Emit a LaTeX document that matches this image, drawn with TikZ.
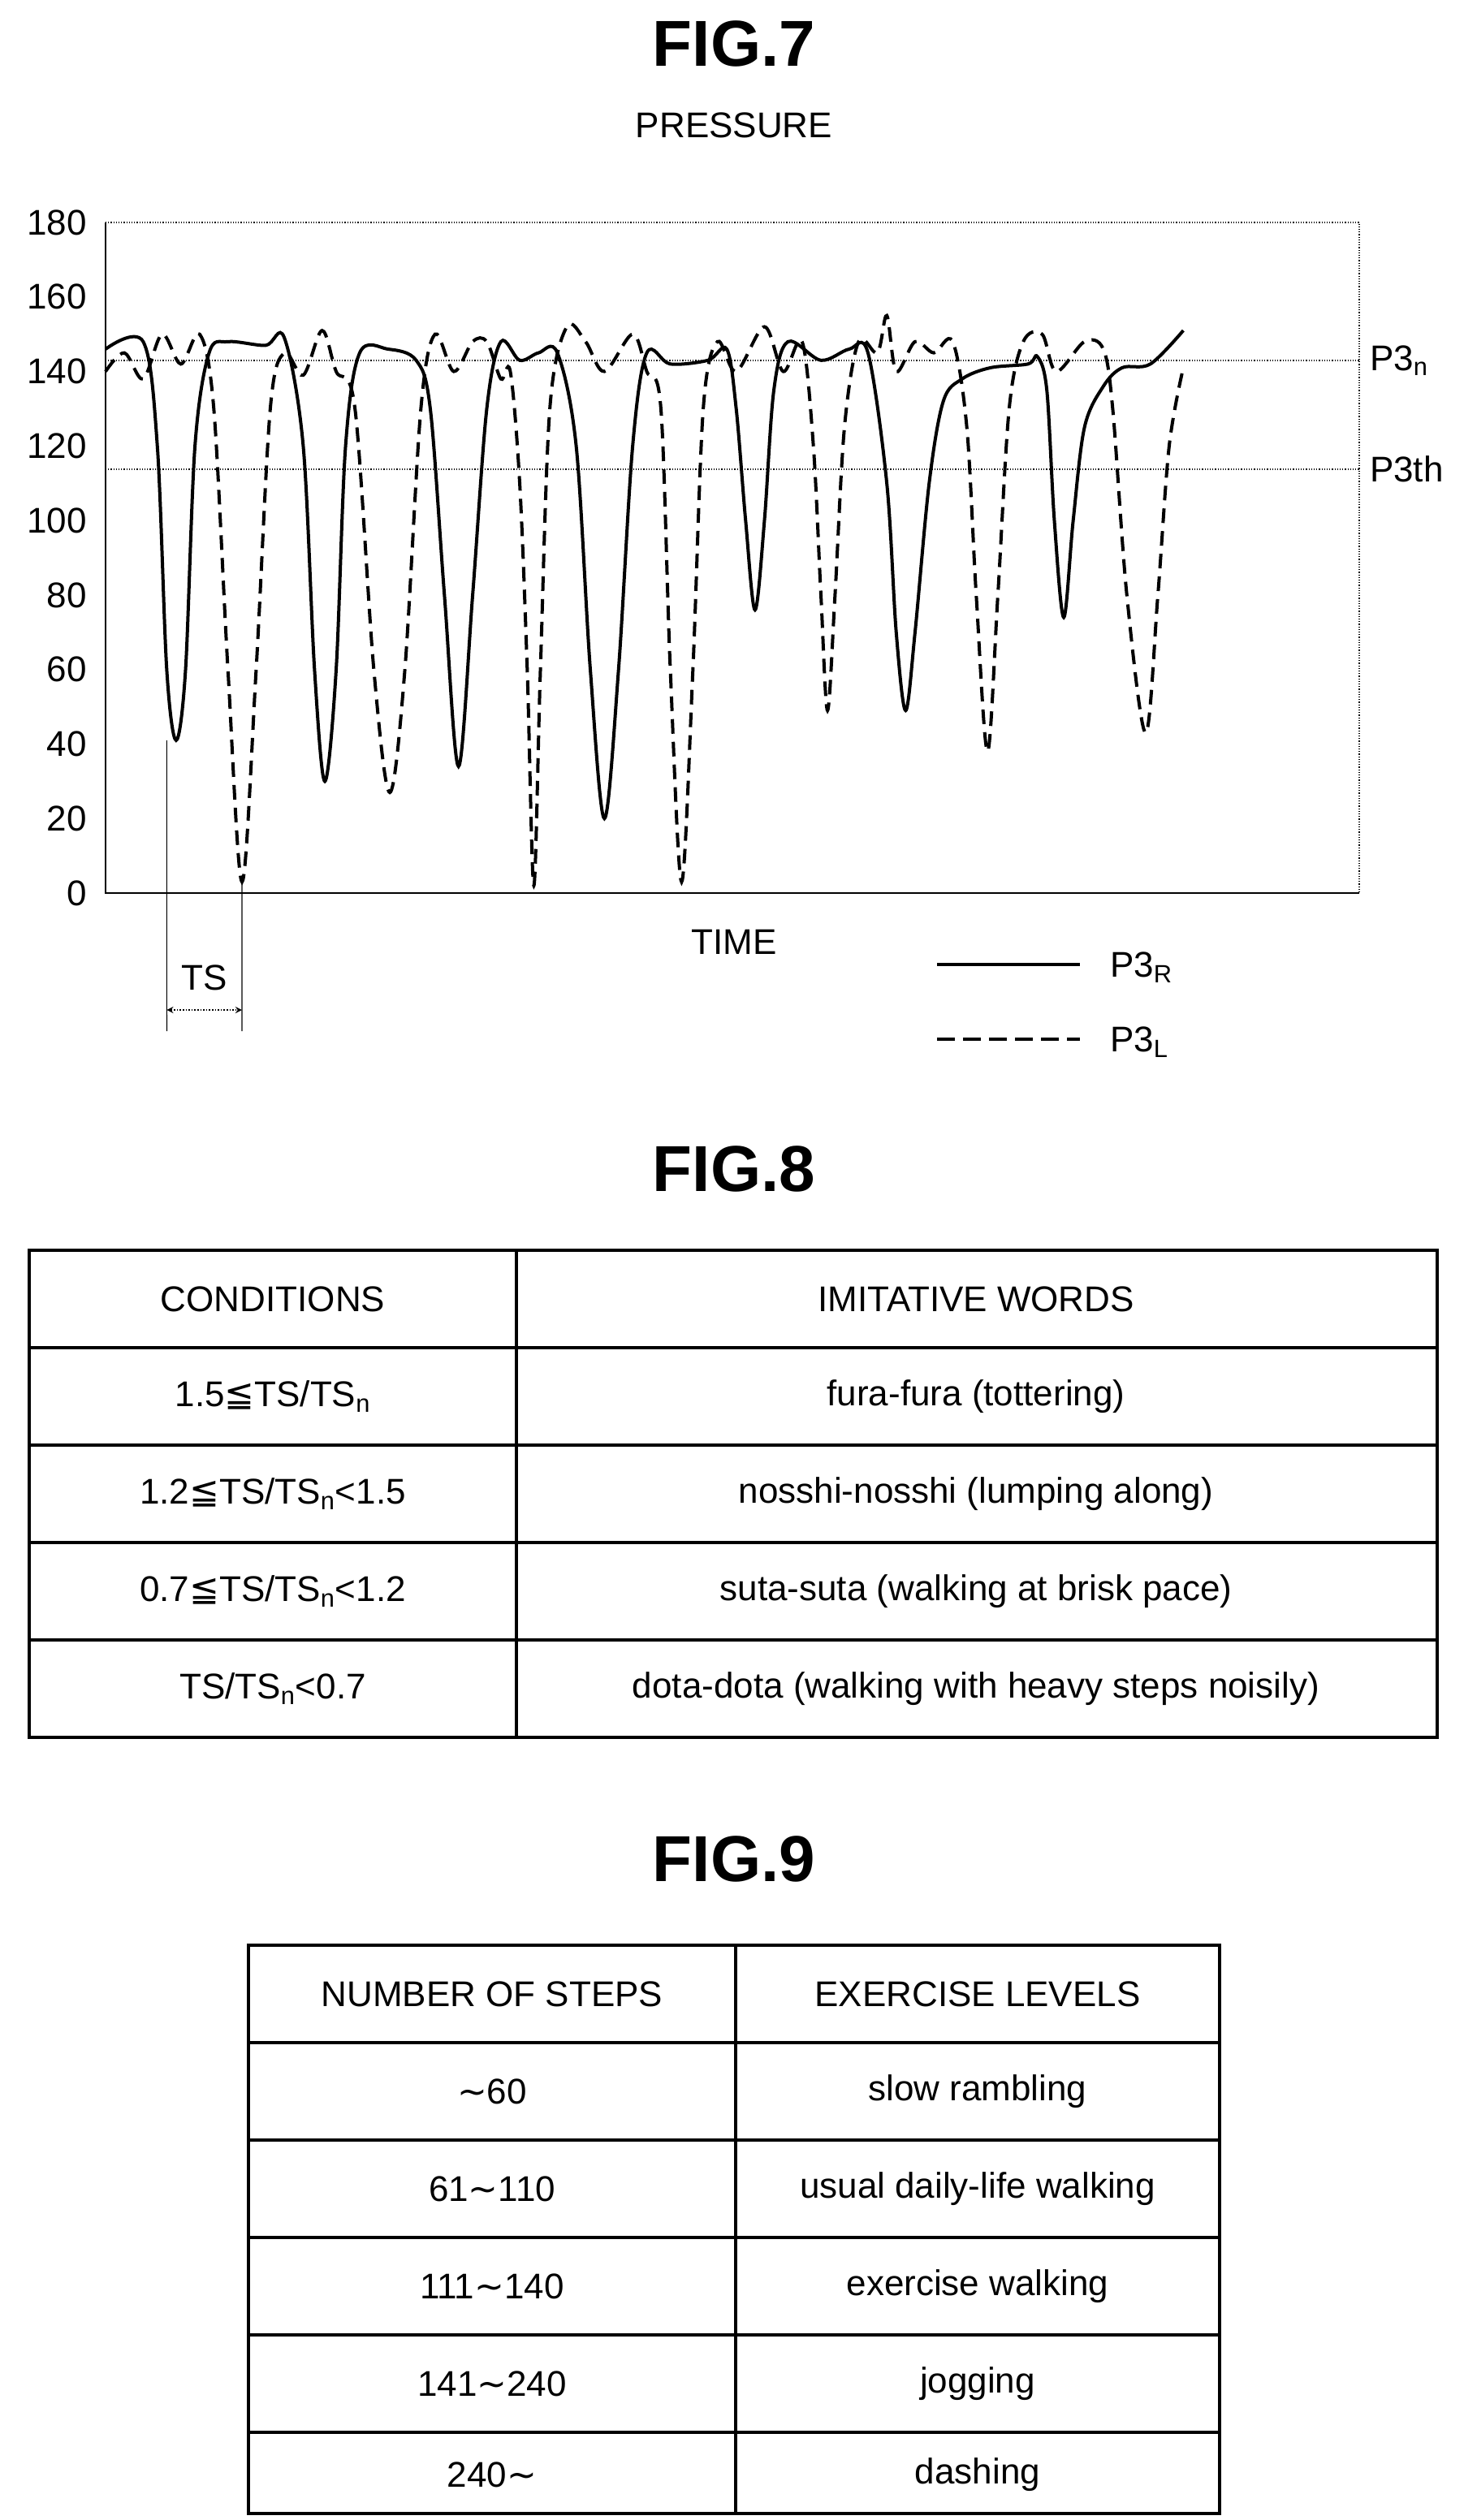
\documentclass[tikz,border=0pt]{standalone}
\usepackage{fontspec}
\setmainfont{Liberation Sans}
\newfontfamily\dv{DejaVu Sans}
\begin{document}
\begin{tikzpicture}[x=1pt,y=1pt,
 title/.style={font=\fontsize{40}{40}\selectfont\bfseries},
 lab/.style={font=\fontsize{22}{22}\selectfont},
 cell/.style={font=\fontsize{22}{22}\selectfont},
 tick/.style={font=\fontsize{22}{22}\selectfont,anchor=east},
 grid/.style={densely dotted,line width=0.6pt},
 tab/.style={line width=2.2pt},
 solidc/.style={line width=2pt,smooth,tension=0.55},
 dashc/.style={line width=2pt,dash pattern=on 9pt off 5pt,smooth,tension=0.55}]
\useasboundingbox (0,0) rectangle (901.5,-1552);
% FIG 7
\node[title] (f7) at (452,-27) {FIG.7};
\node[lab] (pr) at (452,-77) {PRESSURE};
\foreach \v in {0,20,...,180}{\node[tick] (t\v) at (57,-550+\v*2.2944) {\v};}
\coordinate (bl) at (65,-550); \coordinate (br) at (837,-550);
\coordinate (tl) at (65,-137); \coordinate (tr) at (837,-137);
\draw[line width=0.8pt] (tl) -- (bl) -- (br);
\draw[grid] (tl) -- (tr) -- (br);
\coordinate (n1) at (65,-222); \coordinate (n2) at (837,-222);
\coordinate (h1) at (65,-289); \coordinate (h2) at (837,-289);
\draw[grid] (n1) -- (n2); \draw[grid] (h1) -- (h2);
\node[lab,anchor=west] (p3n) at (840,-222) {P3\textsubscript{n}};
\node[lab,anchor=west] (p3th) at (840,-289) {P3th};
\begin{scope}[shift={(65,-550)},x=0.5796pt,y=2.2944pt]
\draw[solidc] plot coordinates {(0,146)(40,148)(55,120)(65,60)(75,41)(85,60)(95,120)(110,145)(130,148)(170,147)(190,149)(210,120)(222,60)(233,30)(245,60)(255,120)(270,145)(300,146)(330,143)(345,130)(360,80)(375,34)(390,80)(405,130)(420,148)(440,143)(460,145)(480,145)(500,120)(515,60)(530,20)(545,60)(560,120)(575,145)(600,142)(640,143)(660,146)(670,130)(680,100)(690,76)(700,100)(710,135)(725,148)(760,143)(790,146)(810,145)(830,110)(840,70)(850,49)(860,70)(875,110)(890,132)(910,138)(940,141)(980,142)(990,144)(1000,135)(1008,100)(1018,74)(1028,100)(1040,125)(1060,136)(1080,141)(1110,142)(1145,151)};
\draw[dashc] plot coordinates {(0,140)(20,145)(40,138)(60,150)(80,142)(100,150)(115,130)(130,60)(145,3)(160,60)(175,130)(190,145)(210,139)(230,151)(245,140)(265,130)(285,60)(302,27)(318,60)(335,130)(350,150)(370,140)(390,148)(405,148)(420,138)(430,140)(440,110)(448,60)(455,2)(462,60)(472,130)(490,152)(510,148)(530,140)(560,150)(575,140)(590,130)(600,60)(612,3)(624,60)(635,130)(650,148)(670,140)(700,152)(720,140)(740,148)(752,120)(760,80)(767,49)(775,80)(785,125)(800,148)(820,145)(830,155)(840,140)(860,148)(880,145)(900,148)(915,125)(925,80)(937,38)(948,80)(960,130)(975,148)(995,150)(1010,140)(1040,148)(1060,146)(1070,130)(1085,80)(1105,43)(1118,80)(1130,120)(1145,141)};
\coordinate (m1) at (65,41); \coordinate (m2) at (145,3);
\end{scope}
\coordinate (m1b) at (102.7,-635); \coordinate (m2b) at (149,-635);
\draw[line width=0.6pt] (m1) -- (m1b); \draw[line width=0.6pt] (m2) -- (m2b);
\coordinate (a1) at (102.7,-622); \coordinate (a2) at (149,-622);
\draw[densely dotted,line width=0.8pt,<->,>=stealth] (a1) -- (a2);
\node[lab] (ts) at (126,-602) {TS};
\node[lab] (time) at (452,-580) {TIME};
\coordinate (l1) at (577,-594); \coordinate (l2) at (665,-594);
\draw[line width=2pt] (l1) -- (l2);
\node[lab,anchor=west] (pr3) at (680,-596) {P3\textsubscript{R}};
\coordinate (l3) at (577,-640); \coordinate (l4) at (665,-640);
\draw[line width=2pt,dash pattern=on 11pt off 5pt] (l3) -- (l4);
\node[lab,anchor=west] (pl3) at (680,-642) {P3\textsubscript{L}};
% FIG 8
\node[title] (f8) at (452,-720) {FIG.8};
\draw[tab] (18,-770) rectangle (885,-1070);
\foreach \y in {830,890,950,1010}{\draw[tab] (18,-\y) -- (885,-\y);}
\draw[tab] (318,-770) -- (318,-1070);
\node[cell] (c1) at (168,-800) {CONDITIONS};
\node[cell] (c2) at (601,-800) {IMITATIVE WORDS};
\node[cell] (c3) at (168,-860) {1.5{\dv ≦}TS/TS\textsubscript{n}};
\node[cell] (c4) at (601,-860) {fura-fura (tottering)};
\node[cell] (c5) at (168,-920) {1.2{\dv ≦}TS/TS\textsubscript{n}<1.5};
\node[cell] (c6) at (601,-920) {nosshi-nosshi (lumping along)};
\node[cell] (c7) at (168,-980) {0.7{\dv ≦}TS/TS\textsubscript{n}<1.2};
\node[cell] (c8) at (601,-980) {suta-suta (walking at brisk pace)};
\node[cell] (c9) at (168,-1040) {TS/TS\textsubscript{n}<0.7};
\node[cell] (c10) at (601,-1040) {dota-dota (walking with heavy steps noisily)};
% FIG 9
\node[title] (f9) at (452,-1145) {FIG.9};
\draw[tab] (153,-1198) rectangle (751,-1548);
\foreach \y in {1258,1318,1378,1438,1498}{\draw[tab] (153,-\y) -- (751,-\y);}
\draw[tab] (453,-1198) -- (453,-1548);
\node[cell] (d1) at (303,-1228) {NUMBER OF STEPS};
\node[cell] (d2) at (602,-1228) {EXERCISE LEVELS};
\node[cell] (d3) at (303,-1288) {{\dv ∼}60};
\node[cell] (d4) at (602,-1288) {slow rambling};
\node[cell] (d5) at (303,-1348) {61{\dv ∼}110};
\node[cell] (d6) at (602,-1348) {usual daily-life walking};
\node[cell] (d7) at (303,-1408) {111{\dv ∼}140};
\node[cell] (d8) at (602,-1408) {exercise walking};
\node[cell] (d9) at (303,-1468) {141{\dv ∼}240};
\node[cell] (d10) at (602,-1468) {jogging};
\node[cell] (d11) at (303,-1524) {240{\dv ∼}};
\node[cell] (d12) at (602,-1524) {dashing};
\end{tikzpicture}
\end{document}
